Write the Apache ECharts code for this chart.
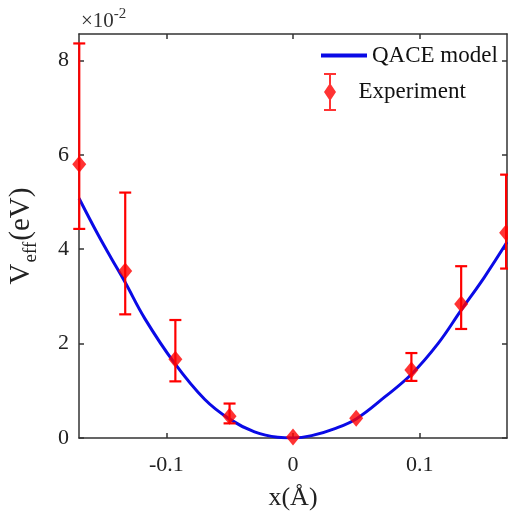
<!DOCTYPE html>
<html>
<head>
<meta charset="utf-8">
<title>Veff vs x</title>
<script src="https://cdn.jsdelivr.net/npm/echarts@6/dist/echarts.min.js"></script>
<style>
    html, body { margin: 0; padding: 0; background: #fff; }
    #chart { width: 508px; height: 515px; }
</style>
</head>
<body>
<div id="chart"></div>
<script>
    // QACE model curve, x in Å, V in eV
    var modelX = [-0.169, -0.1538, -0.1433, -0.1328, -0.117, -0.0934, -0.0698, -0.0501, -0.0304, -0.012, 0, 0.0147, 0.0331, 0.0502, 0.0725, 0.0935, 0.1145, 0.1328, 0.1512, 0.169];
    var modelV = [0.0508, 0.0430, 0.0380, 0.0331, 0.0253, 0.0158, 0.0082, 0.0040, 0.0013, 0.00015, 0.0, 0.0005, 0.0020, 0.0041, 0.0087, 0.0135, 0.0200, 0.0271, 0.0341, 0.0415];

    // experiment points with error bars
    var expX = [-0.1688, -0.1325, -0.0929, -0.0501, 0, 0.0499, 0.0935, 0.1328, 0.1683];
    var expV = [0.0580, 0.0354, 0.0167, 0.0046, 0.0002, 0.0042, 0.0144, 0.0284, 0.0435];
    var expLow = [0.0443, 0.0262, 0.0120, 0.0031, 0.0002, 0.0042, 0.0121, 0.0231, 0.0359];
    var expHigh = [0.0836, 0.0520, 0.0250, 0.0073, 0.0002, 0.0042, 0.0180, 0.0364, 0.0558];

    var xTicks = [-0.1, 0, 0.1];
    var yTicks = [0, 0.02, 0.04, 0.06, 0.08];

    var serif = 'Liberation Serif';
    var axisColor = '#333';
    var red = '#ff0000';
    var blue = '#0a0ae6';

    var modelData = modelX.map(function (x, i) { return [x, modelV[i]]; });
    var expData = expX.map(function (x, i) { return [x, expV[i]]; });
    var errData = expX.map(function (x, i) { return [x, expLow[i], expHigh[i]]; });

    function errorBar(params, api) {
        var x = api.value(0), lo = api.value(1), hi = api.value(2);
        if (lo === hi) return;
        var top = api.coord([x, hi]);
        var bot = api.coord([x, lo]);
        var w = 6;
        var st = { stroke: red, lineWidth: 2.2 };
        return {
            type: 'group',
            children: [
                { type: 'line', shape: { x1: top[0], y1: top[1], x2: bot[0], y2: bot[1] }, style: st },
                { type: 'line', shape: { x1: top[0] - w, y1: top[1], x2: top[0] + w, y2: top[1] }, style: st },
                { type: 'line', shape: { x1: bot[0] - w, y1: bot[1], x2: bot[0] + w, y2: bot[1] }, style: st }
            ]
        };
    }

    var lineSt = { color: axisColor, width: 1.5 };
    var tickSt = { color: axisColor, width: 1.5 };

    var myChart = echarts.init(document.getElementById('chart'));
    var option = {
        backgroundColor: '#fff',
        animation: false,
        title: {
            text: '{a|×10}{b|-2}',
            left: 81,
            top: 7,
            padding: 0,
            textStyle: {
                fontWeight: 'normal',
                rich: {
                    a: { fontFamily: serif, fontSize: 21, fontWeight: 'normal', color: '#333', lineHeight: 28 },
                    b: { fontFamily: serif, fontSize: 15, fontWeight: 'normal', color: '#333', lineHeight: 28, padding: [0, 0, 13, 0] }
                }
            }
        },
        legend: [{
            data: [{ name: 'QACE model', icon: 'rect' }],
            left: 321,
            top: 44,
            padding: 0,
            itemWidth: 46,
            itemHeight: 4,
            textStyle: { fontFamily: serif, fontSize: 23, color: '#111' }
        }, {
            data: [{
                name: 'Experiment',
                icon: 'path://M0,0H12V2H0Z M5,0H7V38H5Z M0,36H12V38H0Z M6,10L12,19L6,28L0,19Z'
            }],
            left: 324,
            top: 73,
            padding: 0,
            itemWidth: 47,
            itemHeight: 38,
            textStyle: { fontFamily: serif, fontSize: 23, color: '#111' }
        }],
        grid: { left: 79, right: 1, top: 34, bottom: 77, outerBoundsMode: 'none' },
        xAxis: [{
            type: 'value',
            position: 'bottom',
            min: -0.169,
            max: 0.169,
            axisLine: { onZero: false, lineStyle: lineSt },
            axisTick: { inside: true, length: 5, customValues: xTicks, lineStyle: tickSt },
            axisLabel: {
                customValues: xTicks,
                margin: 16,
                fontFamily: serif,
                fontSize: 22,
                color: '#222',
                formatter: function (v) { return v === 0 ? '0' : String(v); }
            },
            splitLine: { show: false },
            name: 'x(Å)',
            nameLocation: 'middle',
            nameGap: 47,
            nameTextStyle: { fontFamily: serif, fontSize: 26, color: '#222' }
        }, {
            type: 'value',
            position: 'top',
            min: -0.169,
            max: 0.169,
            axisLine: { onZero: false, lineStyle: lineSt },
            axisTick: { inside: true, length: 5, customValues: xTicks, lineStyle: tickSt },
            axisLabel: { show: false },
            splitLine: { show: false }
        }],
        yAxis: [{
            type: 'value',
            position: 'left',
            min: 0,
            max: 0.0856,
            axisLine: { show: true, onZero: false, lineStyle: lineSt },
            axisTick: { show: true, inside: true, length: 5, customValues: yTicks, lineStyle: tickSt },
            axisLabel: {
                customValues: yTicks,
                margin: 10,
                fontFamily: serif,
                fontSize: 22,
                color: '#222',
                formatter: function (v) { return String(Math.round(v * 100)); }
            },
            splitLine: { show: false },
            name: '{a|V}{b|eff}{a|(eV)}',
            nameLocation: 'middle',
            nameRotate: 90,
            nameGap: 39,
            nameTextStyle: {
                rich: {
                    a: { fontFamily: serif, fontSize: 29, color: '#222', lineHeight: 38 },
                    b: { fontFamily: serif, fontSize: 19, color: '#222', lineHeight: 18, padding: [20, 1, 0, 1] }
                }
            }
        }, {
            type: 'value',
            position: 'right',
            min: 0,
            max: 0.0856,
            axisLine: { show: true, onZero: false, lineStyle: lineSt },
            axisTick: { show: true, inside: true, length: 5, customValues: yTicks, lineStyle: tickSt },
            axisLabel: { show: false },
            splitLine: { show: false }
        }],
        series: [{
            name: 'QACE model',
            type: 'line',
            data: modelData,
            smooth: 0.4,
            symbol: 'none',
            lineStyle: { color: blue, width: 3 },
            itemStyle: { color: blue },
            z: 2
        }, {
            name: 'Experiment',
            type: 'scatter',
            data: expData,
            symbol: 'diamond',
            symbolSize: [14, 17],
            itemStyle: { color: red },
            z: 4
        }, {
            name: 'Experiment',
            type: 'custom',
            data: errData,
            renderItem: errorBar,
            encode: { x: 0, y: [1, 2] },
            itemStyle: { color: red },
            z: 3
        }]
    };
    myChart.setOption(option);
</script>
</body>
</html>
